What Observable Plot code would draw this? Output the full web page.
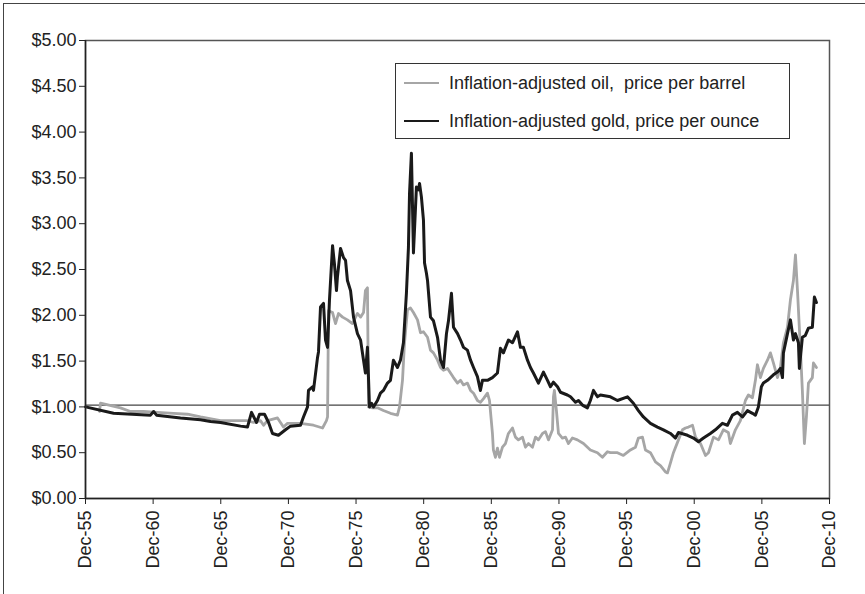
<!DOCTYPE html>
<html>
<head>
<meta charset="utf-8">
<script src="https://cdn.jsdelivr.net/npm/d3@7"></script>
<script src="https://cdn.jsdelivr.net/npm/@observablehq/plot@0.6"></script>
<style>
  html, body { margin: 0; padding: 0; background: #fff; }
  #wrap { position: relative; width: 865px; height: 594px; overflow: hidden; font-family: "Liberation Sans", Arial, sans-serif; }
  #outer { position: absolute; left: 3px; top: 3px; width: 1000px; height: 800px; border: 1.5px solid #444; box-sizing: border-box; pointer-events: none; }
  #legend { position: absolute; left: 395px; top: 63px; width: 395px; height: 76px; border: 1px solid #333; box-sizing: border-box; background: #fff; }
  .lg { position: absolute; left: 0; height: 20px; display: flex; align-items: center; }
  .lg .sw { width: 35px; margin-left: 8px; margin-right: 10px; }
  .lg span { font-size: 18px; color: #222; white-space: pre; }
</style>
</head>
<body>
<div id="wrap">
  <div id="chart"></div>
  <div id="legend">
    <div class="lg" style="top:9px"><div class="sw" style="border-top:2.5px solid #a6a6a6"></div><span>Inflation-adjusted oil,  price per barrel</span></div>
    <div class="lg" style="top:47px"><div class="sw" style="border-top:2.5px solid #1a1a1a"></div><span>Inflation-adjusted gold, price per ounce</span></div>
  </div>
  <div id="outer"></div>
</div>
<script>
// Decimal year / value pairs
const goldYears = [1955.92,1957.99,1960.72,1960.95,1961.17,1962.94,1964.42,1965.16,1965.9,1967.38,1967.89,1968.19,1968.56,1968.78,1969.15,1969.45,1969.74,1970.18,1970.7,1971.07,1971.81,1972.03,1972.33,1972.4,1972.7,1972.77,1973.07,1973.14,1973.29,1973.51,1973.66,1973.81,1973.95,1974.18,1974.32,1974.47,1974.54,1974.77,1974.99,1975.14,1975.28,1975.51,1975.73,1976.02,1976.25,1976.47,1976.61,1976.76,1976.91,1977.06,1977.21,1977.5,1977.72,1977.94,1978.24,1978.46,1978.68,1978.98,1979.2,1979.42,1979.64,1979.79,1979.87,1980.01,1980.16,1980.38,1980.53,1980.61,1980.75,1980.9,1980.98,1981.12,1981.2,1981.42,1981.64,1981.94,1982.16,1982.38,1982.6,1982.75,1982.97,1983.12,1983.42,1983.64,1983.86,1984.15,1984.38,1984.6,1984.89,1985.11,1985.26,1985.63,1986.0,1986.37,1986.59,1986.81,1987.18,1987.48,1987.85,1988.07,1988.29,1988.59,1988.81,1989.03,1989.4,1989.77,1990.07,1990.29,1990.51,1990.81,1991.03,1991.54,1991.77,1992.14,1992.36,1992.65,1993.02,1993.24,1993.47,1993.76,1993.98,1994.72,1995.24,1995.98,1996.42,1996.79,1997.16,1997.68,1998.2,1998.64,1999.16,1999.53,1999.75,2000.42,2000.86,2001.23,2001.6,2002.11,2002.48,2003.0,2003.37,2003.74,2004.11,2004.48,2004.85,2005.22,2005.44,2005.66,2005.88,2006.03,2006.33,2006.55,2006.77,2007.07,2007.29,2007.44,2007.51,2007.81,2008.03,2008.25,2008.4,2008.62,2008.69,2008.91,2009.13,2009.36,2009.65,2009.8,2009.95];
const goldValues = [1.00,0.93,0.91,0.95,0.91,0.88,0.86,0.84,0.83,0.79,0.78,0.94,0.83,0.92,0.92,0.83,0.71,0.69,0.75,0.79,0.80,0.89,1.00,1.18,1.22,1.18,1.54,1.60,2.09,2.13,1.73,1.65,2.16,2.76,2.56,2.27,2.42,2.73,2.63,2.60,2.38,2.27,1.98,1.80,1.73,1.51,1.37,1.65,1.00,1.04,1.00,1.07,1.15,1.18,1.26,1.29,1.51,1.43,1.51,1.70,2.24,2.74,3.33,3.77,2.68,3.40,3.37,3.44,3.29,3.04,2.57,2.46,2.38,1.98,1.94,1.76,1.51,1.43,1.80,1.94,2.24,1.87,1.80,1.73,1.65,1.62,1.51,1.43,1.33,1.18,1.29,1.29,1.32,1.37,1.64,1.59,1.73,1.70,1.82,1.65,1.65,1.51,1.43,1.37,1.26,1.38,1.29,1.22,1.27,1.22,1.16,1.13,1.11,1.05,1.07,1.02,0.99,1.07,1.18,1.11,1.13,1.11,1.07,1.11,1.04,0.96,0.89,0.82,0.78,0.75,0.71,0.66,0.72,0.69,0.66,0.62,0.66,0.71,0.75,0.82,0.80,0.91,0.94,0.89,0.96,0.93,0.91,1.00,1.22,1.26,1.29,1.32,1.35,1.38,1.42,1.32,1.59,1.80,1.95,1.73,1.80,1.70,1.42,1.76,1.78,1.86,1.87,2.20,2.14];

const oilYears = [1956.95,1957.03,1958.5,1959.24,1960.2,1961.24,1962.42,1963.46,1964.42,1965.9,1967.89,1968.34,1968.85,1969.08,1969.37,1970.11,1970.55,1970.85,1971.81,1972.77,1973.44,1973.73,1973.81,1973.88,1974.18,1974.4,1974.62,1974.92,1975.28,1975.65,1976.02,1976.25,1976.47,1976.61,1976.76,1976.84,1977.13,1977.5,1977.94,1978.46,1978.98,1979.13,1979.35,1979.5,1979.72,1979.94,1980.16,1980.46,1980.68,1980.9,1981.2,1981.42,1981.64,1981.94,1982.16,1982.38,1982.68,1982.9,1983.12,1983.42,1983.64,1983.86,1984.15,1984.38,1984.6,1984.89,1985.11,1985.34,1985.63,1985.78,1986.0,1986.07,1986.22,1986.37,1986.52,1986.74,1986.96,1987.18,1987.48,1987.7,1987.92,1988.22,1988.44,1988.66,1988.96,1989.18,1989.4,1989.7,1989.92,1990.14,1990.44,1990.51,1990.58,1990.73,1990.88,1991.17,1991.4,1991.62,1991.91,1992.28,1992.73,1993.24,1993.76,1994.13,1994.5,1994.72,1995.24,1995.68,1996.2,1996.57,1996.79,1997.09,1997.31,1997.68,1998.05,1998.42,1998.79,1998.94,1999.16,1999.38,1999.75,2000.05,2000.27,2000.49,2000.79,2001.01,2001.38,2001.75,2001.97,2002.34,2002.71,2003.07,2003.44,2003.59,2003.96,2004.33,2004.7,2004.92,2005.22,2005.44,2005.59,2005.81,2006.03,2006.33,2006.55,2006.77,2007.07,2007.29,2007.51,2007.81,2008.03,2008.25,2008.4,2008.55,2008.77,2008.91,2009.06,2009.21,2009.36,2009.65,2009.73,2009.95];
const oilValues = [0.95,1.04,0.99,0.95,0.95,0.94,0.93,0.92,0.89,0.85,0.85,0.83,0.85,0.80,0.85,0.88,0.78,0.82,0.82,0.80,0.77,0.85,0.89,2.05,2.03,1.91,2.02,1.98,1.95,1.91,2.02,1.98,2.03,2.27,2.30,1.00,0.99,0.99,0.96,0.93,0.91,1.00,1.29,1.70,2.06,2.08,2.03,1.95,1.81,1.82,1.76,1.62,1.59,1.51,1.43,1.40,1.42,1.37,1.32,1.26,1.29,1.24,1.26,1.18,1.15,1.07,1.05,1.09,1.15,1.07,0.71,0.53,0.45,0.55,0.45,0.56,0.60,0.71,0.77,0.67,0.64,0.67,0.56,0.60,0.56,0.67,0.64,0.71,0.73,0.64,0.75,1.11,1.18,0.96,0.71,0.66,0.67,0.60,0.66,0.64,0.60,0.53,0.50,0.45,0.51,0.50,0.50,0.47,0.53,0.56,0.66,0.67,0.53,0.50,0.40,0.36,0.29,0.28,0.39,0.50,0.64,0.75,0.77,0.78,0.80,0.67,0.60,0.47,0.50,0.67,0.64,0.75,0.72,0.60,0.75,0.85,1.07,1.13,1.10,1.29,1.46,1.32,1.42,1.51,1.59,1.48,1.32,1.43,1.70,1.87,2.17,2.38,2.66,2.27,1.62,1.18,0.60,0.89,1.26,1.32,1.48,1.43];

const refLine = 1.02;
const xTickYears = [1955,1960,1965,1970,1975,1980,1985,1990,1995,2000,2005,2010];
const yTicks = [0,0.5,1,1.5,2,2.5,3,3.5,4,4.5,5];

const gold = goldYears.map((t, i) => ({t, v: goldValues[i]}));
const oil = oilYears.map((t, i) => ({t, v: oilValues[i]}));
const xTicks = xTickYears.map(y => y + 11/12);
const fmtX = d => "Dec-" + String(Math.round(d - 11/12) % 100).padStart(2, "0");

const chart = Plot.plot({
  width: 865,
  height: 594,
  marginLeft: 85,
  marginRight: 36,
  marginTop: 40,
  marginBottom: 96,
  style: {fontFamily: '"Liberation Sans", Arial, sans-serif', fontSize: "18px", color: "#222", background: "transparent", overflow: "visible"},
  x: {domain: [1955 + 11/12, 2010 + 11/12]},
  y: {domain: [0, 5]},
  marks: [
    Plot.ruleY([refLine], {stroke: "#444", strokeWidth: 1.3}),
    Plot.line(oil, {x: "t", y: "v", stroke: "#a6a6a6", strokeWidth: 2.8, strokeLinejoin: "round"}),
    Plot.line(gold, {x: "t", y: "v", stroke: "#1a1a1a", strokeWidth: 3, strokeLinejoin: "round"}),
    Plot.frame({stroke: "#555", strokeWidth: 1.5}),
    Plot.ruleY([0], {stroke: "#222", strokeWidth: 1.5}),
    Plot.ruleX([1955 + 11/12], {stroke: "#222", strokeWidth: 1.5}),
    Plot.axisY({ticks: yTicks, tickFormat: d => "$" + d.toFixed(2), tickSize: 6, tickPadding: 3, label: null, fontSize: 18, stroke: "#222"}),
    Plot.axisX({ticks: xTicks, tickFormat: fmtX, tickSize: 6, tickPadding: 6, tickRotate: -90, label: null, fontSize: 18, stroke: "#222"})
  ]
});
document.getElementById("chart").appendChild(chart);
</script>
</body>
</html>
